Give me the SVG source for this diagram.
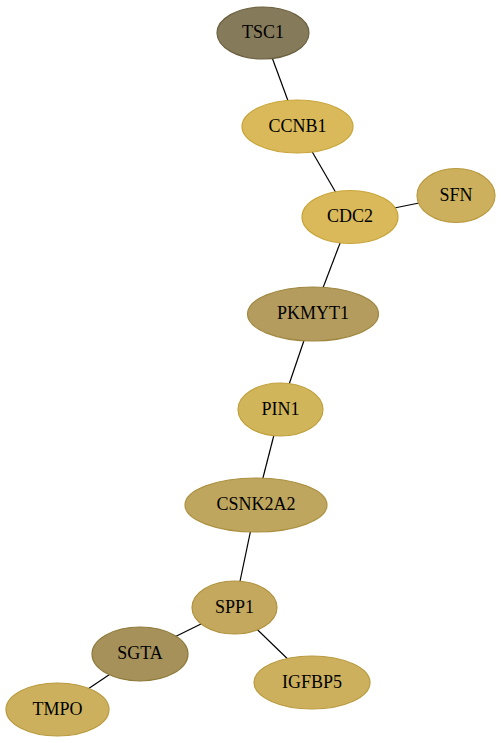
<svg xmlns="http://www.w3.org/2000/svg" width="501" height="743" viewBox="0 0 501 743">
<style>
.e{stroke:#000;stroke-width:1.2;fill:none}
.n{stroke-width:1.2}
text{font-family:"Liberation Serif","Times New Roman",serif;font-size:18px;text-anchor:middle;fill:#000}
</style>
<rect width="501" height="743" fill="#fff"/>
<g id="edges">
<line class="e" x1="263" y1="33" x2="297.5" y2="126.5"/>
<line class="e" x1="297.5" y1="126.5" x2="350" y2="217"/>
<line class="e" x1="350" y1="217" x2="456" y2="195.5"/>
<line class="e" x1="350" y1="217" x2="313" y2="314"/>
<line class="e" x1="313" y1="314" x2="280.5" y2="409.5"/>
<line class="e" x1="280.5" y1="409.5" x2="256" y2="505"/>
<line class="e" x1="256" y1="505" x2="234.5" y2="607.5"/>
<line class="e" x1="234.5" y1="607.5" x2="140" y2="654"/>
<line class="e" x1="234.5" y1="607.5" x2="312" y2="682.5"/>
<line class="e" x1="140" y1="654" x2="57.5" y2="709.5"/>
</g>
<g id="TSC1"><ellipse class="n" cx="263" cy="33" rx="46" ry="26" fill="#857a5a" stroke="#6b6140"/><text x="263" y="38">TSC1</text></g>
<g id="CCNB1"><ellipse class="n" cx="297.5" cy="126.5" rx="55.5" ry="26.5" fill="#d9b95a" stroke="#c9a53a"/><text x="297.5" y="131.5">CCNB1</text></g>
<g id="CDC2"><ellipse class="n" cx="350" cy="217" rx="48" ry="26.5" fill="#d9b95a" stroke="#c9a53a"/><text x="350" y="222">CDC2</text></g>
<g id="SFN"><ellipse class="n" cx="456" cy="195.5" rx="39" ry="27" fill="#ccb05d" stroke="#b99a3e"/><text x="456" y="200.5">SFN</text></g>
<g id="PKMYT1"><ellipse class="n" cx="313" cy="314" rx="65.5" ry="27" fill="#b39c5e" stroke="#9f8740"/><text x="313" y="319">PKMYT1</text></g>
<g id="PIN1"><ellipse class="n" cx="280.5" cy="409.5" rx="42.5" ry="26.5" fill="#d1b55b" stroke="#bfa03c"/><text x="280.5" y="414.5">PIN1</text></g>
<g id="CSNK2A2"><ellipse class="n" cx="256" cy="505" rx="71" ry="27" fill="#bfa65f" stroke="#ab9040"/><text x="256" y="510">CSNK2A2</text></g>
<g id="SPP1"><ellipse class="n" cx="234.5" cy="607.5" rx="42.5" ry="26.5" fill="#c4a85e" stroke="#b0923f"/><text x="234.5" y="612.5">SPP1</text></g>
<g id="SGTA"><ellipse class="n" cx="140" cy="654" rx="48" ry="27" fill="#a59159" stroke="#8f7b3c"/><text x="140" y="659">SGTA</text></g>
<g id="IGFBP5"><ellipse class="n" cx="312" cy="682.5" rx="58" ry="26.5" fill="#ccb05d" stroke="#b99a3e"/><text x="312" y="687.5">IGFBP5</text></g>
<g id="TMPO"><ellipse class="n" cx="57.5" cy="709.5" rx="51.5" ry="26.5" fill="#ccb05d" stroke="#b99a3e"/><text x="57.5" y="714.5">TMPO</text></g>
</svg>
